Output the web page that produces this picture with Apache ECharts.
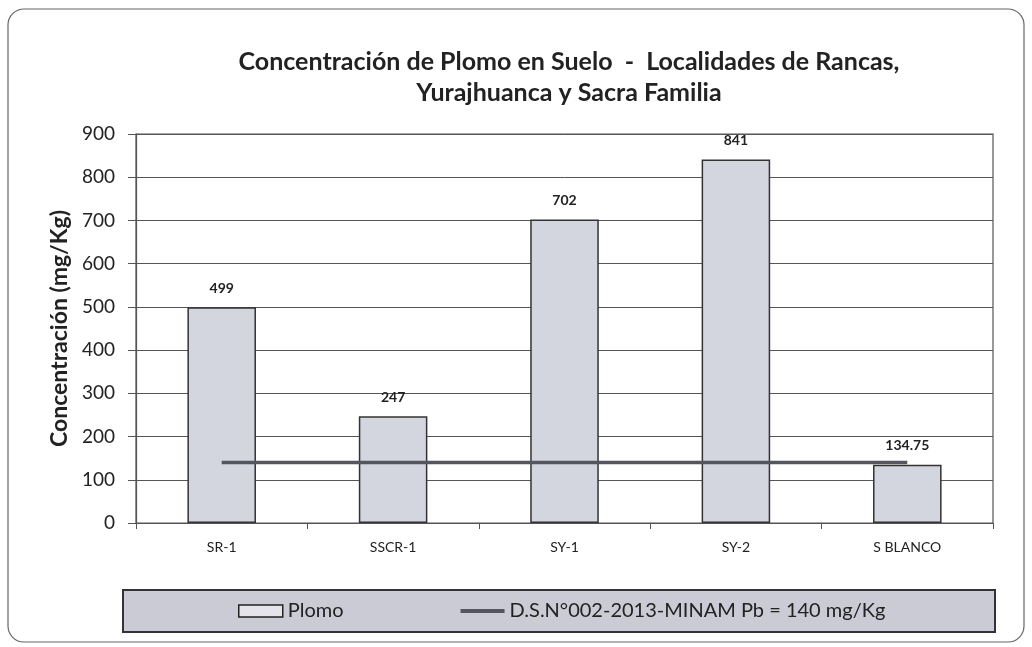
<!DOCTYPE html>
<html><head><meta charset="utf-8">
<script src="https://cdn.jsdelivr.net/npm/echarts@6/dist/echarts.min.js"></script>
<style>html,body{margin:0;padding:0;background:#fff}#c{width:1032px;height:647px}</style>
</head><body><div id="c"></div>
<script>
const categories = ["SR-1", "SSCR-1", "SY-1", "SY-2", "S BLANCO"];
const plomo = [499, 247, 702, 841, 134.75];
const norma = [140, 140, 140, 140, 140];
const yTicks = [0, 100, 200, 300, 400, 500, 600, 700, 800, 900];
const titleText = "Concentración de Plomo en Suelo  -  Localidades de Rancas,\nYurajhuanca y Sacra Familia";
const yName = "Concentración (mg/Kg)";
const seriesNames = ["Plomo", "D.S.N°002-2013-MINAM Pb = 140 mg/Kg"];

const font = "Lato, 'Open Sans', sans-serif";
const chart = echarts.init(document.getElementById('c'));
chart.setOption({
  backgroundColor: '#fff',
  animation: false,
  graphic: [
    { type: 'rect', shape: { x: 8, y: 9, width: 1016, height: 633, r: 16 }, style: { fill: 'none', stroke: '#666', lineWidth: 1.2 }, z: -10 },
    { type: 'rect', shape: { x: 123, y: 590, width: 872, height: 42 }, style: { fill: '#cacbd5', stroke: '#333', lineWidth: 2 }, z: -5 }
  ],
  title: {
    text: titleText, left: 564, top: 41, textAlign: 'center',
    textStyle: { fontFamily: font, fontSize: 25, fontWeight: 'bold', color: '#222', lineHeight: 31 }
  },
  legend: {
    top: 601, left: 238, itemGap: 117, padding: 0,
    itemWidth: 44, itemHeight: 12,
    textStyle: { fontFamily: font, fontSize: 20, color: '#222' },
    data: [
      { name: seriesNames[0], icon: 'rect', itemStyle: { color: '#e4e4ea', borderColor: '#222', borderWidth: 1.5 } },
      { name: seriesNames[1], icon: 'path://M0,0H44V4H0Z', itemStyle: { color: '#555560' } }
    ]
  },
  grid: { left: 136, right: 39, top: 134, bottom: 124, show: true, borderColor: '#555', borderWidth: 1.2, backgroundColor: 'transparent' },
  xAxis: {
    type: 'category', data: categories,
    axisLine: { lineStyle: { color: '#555', width: 1.2 } },
    axisTick: { show: true, length: 6, lineStyle: { color: '#555' } },
    axisLabel: { fontFamily: font, fontSize: 14, color: '#222', margin: 17 }
  },
  yAxis: {
    type: 'value', min: 0, max: 900, interval: 100,
    name: yName, nameLocation: 'middle', nameGap: 62,
    nameTextStyle: { fontFamily: font, fontSize: 23, fontWeight: 'bold', color: '#222' },
    axisLine: { show: true, lineStyle: { color: '#555', width: 1.2 } },
    axisTick: { show: true, length: 8, lineStyle: { color: '#555' } },
    axisLabel: { fontFamily: font, fontSize: 19, color: '#222', margin: 21,
      formatter: v => yTicks.includes(v) ? String(v) : '' },
    splitLine: { lineStyle: { color: '#555', width: 1 } }
  },
  series: [
    {
      name: seriesNames[0], type: 'bar', data: plomo, barWidth: '40%',
      itemStyle: { color: '#d3d5df', borderColor: '#333', borderWidth: 1.5 },
      label: { show: true, position: 'top', distance: 12, fontFamily: font, fontSize: 14, fontWeight: 'bold', color: '#222' },
      z: 2
    },
    {
      name: seriesNames[1], type: 'line', data: norma, symbol: 'none',
      lineStyle: { color: '#555560', width: 3.5 },
      itemStyle: { color: '#555560' },
      z: 3
    }
  ]
});
</script></body></html>
